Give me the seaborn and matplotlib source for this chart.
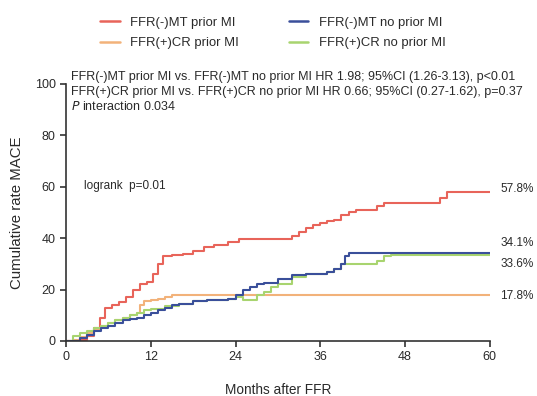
import matplotlib
matplotlib.use("Agg")
import matplotlib.pyplot as plt
import seaborn as sns
import pandas as pd
from matplotlib.lines import Line2D

# ---- data ----
red_t = [0, 2, 3, 4, 4.8, 5.5, 6.5, 7.5, 8.5, 9.5, 10.5, 11.5, 12.3, 13, 13.7, 15, 16.5, 18, 19.5, 21, 23, 24.5,
         31, 32, 33, 34, 35, 36, 37, 38, 39, 40, 41, 43, 44, 45, 46, 52, 53, 54, 60]
red_v = [0, 0.5, 2, 5, 9, 13, 14, 15, 17, 20, 22, 23, 26, 30, 33, 33.5, 34, 35, 36.5, 37.5, 38.5, 39.5,
         39.5, 41, 42.5, 44, 45, 46, 46.5, 47, 49, 50, 51, 51, 52.5, 53.5, 53.5, 53.5, 55.5, 57.8, 57.8]

blue_t = [0, 2, 3, 4, 5, 6, 7, 8, 9, 10, 11, 12, 13, 14, 15, 16, 18, 20, 22, 23, 24, 25, 26, 27, 28, 30, 32, 34,
          36, 37, 38, 39, 39.5, 40, 60]
blue_v = [0, 1, 2.5, 4, 5, 6, 7, 8, 8.5, 9, 10, 11, 12, 13, 14, 14.5, 15.5, 16, 16, 16.5, 18, 20, 21, 22, 22.5,
          24, 25.5, 26, 26, 27, 28, 30, 33, 34.1, 34.1]

orange_t = [0, 1, 2, 3, 4, 5, 6, 7, 8, 9, 10, 10.5, 11, 12, 13, 14, 15, 60]
orange_v = [0, 0.5, 1.5, 3, 4.5, 6, 7, 8, 9, 10, 11, 14, 15.5, 16, 16.5, 17, 17.8, 17.8]

green_t = [0, 1, 2, 3, 4, 5, 6, 7, 8, 9, 10, 11, 12, 14, 16, 18, 20, 22, 23, 24, 25, 26, 27, 28, 29, 30, 32, 34,
           36, 37, 38, 39, 40, 43, 44, 45, 46, 60]
green_v = [0, 2, 3, 4, 5, 6, 7, 8, 9, 10, 11, 12, 12.5, 13.5, 14.5, 15.5, 16, 16, 16.5, 17, 16, 16, 18, 19, 21,
           22, 25, 26, 26, 27, 28, 30, 30, 30, 31, 33, 33.6, 33.6]

series_names = ["FFR(-)MT prior MI", "FFR(-)MT no prior MI", "FFR(+)CR prior MI", "FFR(+)CR no prior MI"]
end_labels = ["57.8%", "34.1%", "33.6%", "17.8%"]
x_ticks = [0, 12, 24, 36, 48, 60]
y_ticks = [0, 20, 40, 60, 80, 100]

colors = {"FFR(-)MT prior MI": "#e8645a",
          "FFR(-)MT no prior MI": "#3a4f9a",
          "FFR(+)CR prior MI": "#f2b27a",
          "FFR(+)CR no prior MI": "#a8d46f"}

frames = []
for name, t, v in zip(series_names, [red_t, blue_t, orange_t, green_t], [red_v, blue_v, orange_v, green_v]):
    frames.append(pd.DataFrame({"month": t, "rate": v, "group": name}))
df = pd.concat(frames, ignore_index=True)

sns.set_style("ticks")
plt.rcParams['font.family'] = ['Liberation Sans', 'DejaVu Sans']
txt = "#2a2a2a"

fig = plt.figure(figsize=(5.37, 3.96), dpi=100)
ax = fig.add_axes([0.123, 0.139, 0.789, 0.649])

plot_order = ["FFR(+)CR prior MI", "FFR(-)MT prior MI", "FFR(+)CR no prior MI", "FFR(-)MT no prior MI"]
for name in plot_order:
    sub = df[df["group"] == name]
    sns.lineplot(data=sub, x="month", y="rate", ax=ax, color=colors[name], lw=1.5,
                 drawstyle="steps-post", estimator=None, legend=False)

ax.set_xlim(0, 60)
ax.set_ylim(0, 100)
ax.set_xticks(x_ticks)
ax.set_yticks(y_ticks)
ax.tick_params(direction="out", length=4, width=1.2, labelsize=9, colors="#333333", labelcolor=txt)
for s in ["top", "right"]:
    ax.spines[s].set_visible(False)
for s in ["left", "bottom"]:
    ax.spines[s].set_linewidth(1.2)
    ax.spines[s].set_color("#333333")
ax.set_xlabel("Months after FFR", fontsize=9.8, color=txt, labelpad=14)
ax.set_ylabel("Cumulative rate MACE", fontsize=10.8, color=txt, labelpad=8)

# end labels
label_pos = [59.1, 38.1, 30.0, 17.3]
for lab, yv in zip(end_labels, label_pos):
    ax.text(61.5, yv, lab, fontsize=8.5, color=txt, va="center", ha="left", clip_on=False)

ax.text(2.5, 60.3, "logrank  p=0.01", fontsize=8.5, color=txt, va="center")
ax.text(0.7, 102.7, "FFR(-)MT prior MI vs. FFR(-)MT no prior MI HR 1.98; 95%CI (1.26-3.13), p<0.01",
        fontsize=9, color=txt, va="center", ha="left", clip_on=False)
ax.text(0.7, 96.9, "FFR(+)CR prior MI vs. FFR(+)CR no prior MI HR 0.66; 95%CI (0.27-1.62), p=0.37",
        fontsize=9, color=txt, va="center", ha="left")
ax.text(0.7, 91.4, "$\\it{P}$ interaction 0.034", fontsize=9, color=txt, va="center", ha="left")

leg_order = ["FFR(-)MT prior MI", "FFR(+)CR prior MI", "FFR(-)MT no prior MI", "FFR(+)CR no prior MI"]
handles = [Line2D([0], [0], color=colors[n], lw=1.8) for n in leg_order]
fig.legend(handles, leg_order, loc="center", bbox_to_anchor=(0.508, 0.917), ncol=2, frameon=False,
           fontsize=9.4, columnspacing=3.8, handlelength=1.5, labelcolor=txt, handletextpad=0.8,
           labelspacing=0.65)

fig.savefig("out.png", dpi=100, facecolor="white")
